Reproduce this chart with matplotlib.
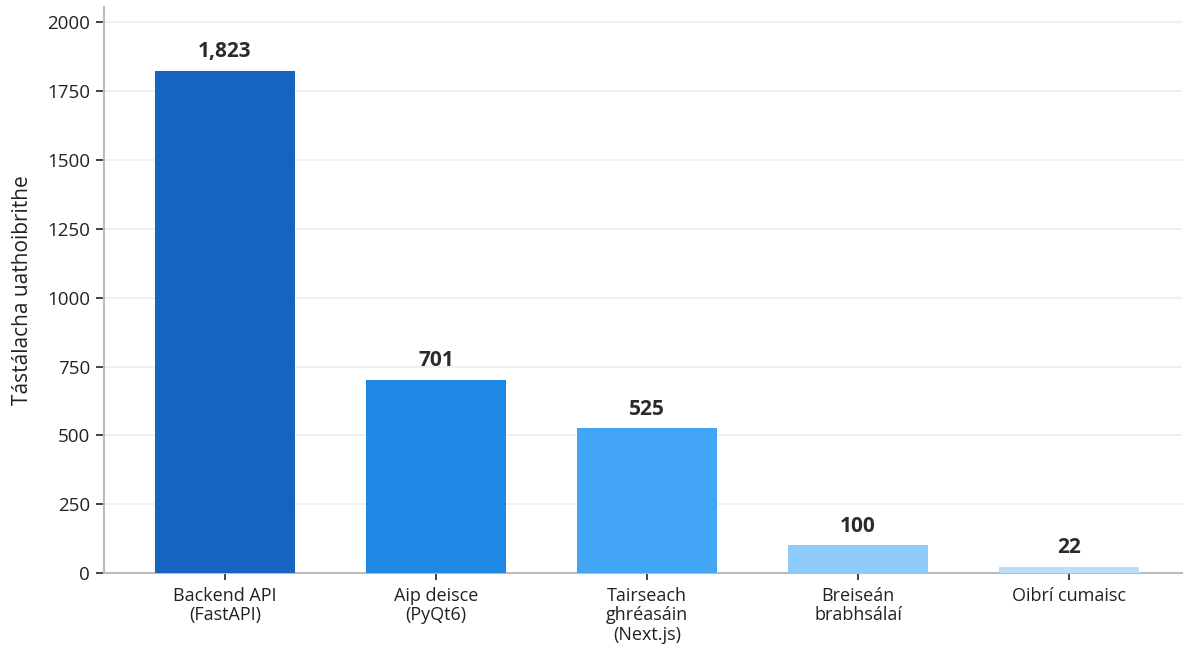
import matplotlib
matplotlib.use("Agg")
import matplotlib.pyplot as plt

plt.rcParams['font.family'] = ['Open Sans', 'DejaVu Sans']

# Data
categories = ['Backend API\n(FastAPI)', 'Aip deisce\n(PyQt6)', 'Tairseach\nghréasáin\n(Next.js)',
              'Breiseán\nbrabhsálaí', 'Oibrí cumaisc']
tests = [1823, 701, 525, 100, 22]
colors = ['#1565C0', '#1E88E5', '#42A5F5', '#90CAF9', '#BBDEFB']

fig = plt.figure(figsize=(11.85, 6.51), dpi=100)
ax = fig.add_axes([0.0878, 0.1198, 0.9097, 0.869])

x = range(len(categories))
ax.bar(x, tests, width=0.66, color=colors, zorder=3)

for xi, v in zip(x, tests):
    ax.text(xi, v + 32, f'{v:,}', ha='center', va='bottom',
            fontsize=15, fontweight='bold', color='#2b2b2b')

ax.set_xticks(list(x))
ax.set_xticklabels(categories, fontsize=13, color='#222222', linespacing=1.1)
ax.set_ylim(0, 2055)
ax.set_xlim(-0.573, 4.535)
ax.set_yticks([0, 250, 500, 750, 1000, 1250, 1500, 1750, 2000])
ax.tick_params(axis='y', labelsize=13.5, length=6, width=1.2, color='#222222', labelcolor='#222222', pad=4)
ax.tick_params(axis='x', length=5, width=1.2, color='#222222', pad=5)
ax.set_ylabel('Tástálacha uathoibrithe', fontsize=15, color='#222222', labelpad=10)

ax.grid(axis='y', color='#eeeeee', linewidth=1.2, zorder=0)
for s in ['top', 'right']:
    ax.spines[s].set_visible(False)
for s in ['left', 'bottom']:
    ax.spines[s].set_color('#bbbbbb')
    ax.spines[s].set_linewidth(1.5)

fig.savefig('out.png', dpi=100)
